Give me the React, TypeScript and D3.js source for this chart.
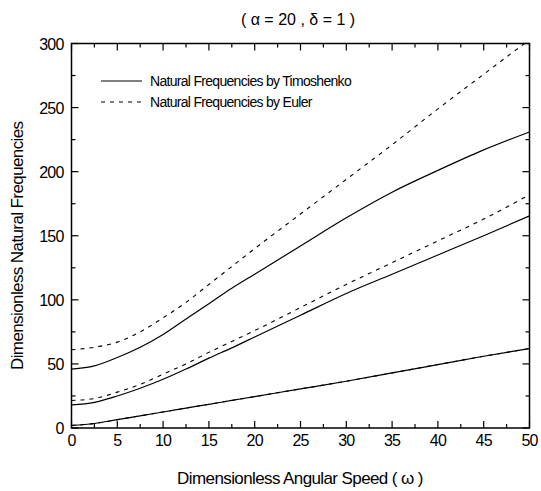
import React from "react";
import * as d3 from "d3";

// angular speed samples
const omega = [0, 2.5, 5, 7.5, 10, 12.5, 15, 17.5, 20, 25, 30, 35, 40, 45, 50];

// Timoshenko modes
const timo1 = [2, 3.5, 6.5, 9.5, 12.5, 15.5, 18.5, 21.5, 24.5, 30.5, 36.5, 43, 49.5, 56, 62];
const timo2 = [18, 20, 25, 31, 38, 46, 54.5, 62.5, 71, 88, 105, 120, 135, 150, 165.5];
const timo3 = [46, 48.5, 55, 63, 73, 85, 97, 109, 120, 142, 164, 184, 201, 217, 231];

// Euler modes
const euler1 = [2, 3.5, 6.5, 9.5, 12.5, 15.5, 18.5, 21.5, 24.5, 30.5, 36.5, 43, 49.5, 56, 62];
const euler2 = [21.5, 23, 28, 34, 42, 50, 59, 67.5, 76, 94, 112, 129, 146, 163, 182];
const euler3 = [61, 63, 67, 75, 86, 98, 112, 126, 140, 167, 194, 221, 249, 276, 303];

const xTicks = [0, 5, 10, 15, 20, 25, 30, 35, 40, 45, 50];
const yTicks = [0, 50, 100, 150, 200, 250, 300];
const legendLabels = ["Natural Frequencies by Timoshenko", "Natural Frequencies by Euler"];

const W = 541, H = 491;
const margin = { top: 43.5, right: 11.5, bottom: 63, left: 71.5 };
const font = "'Liberation Sans', Arial, sans-serif";

export default function App() {
    const x = d3.scaleLinear().domain([0, 50]).range([margin.left, W - margin.right]);
    const y = d3.scaleLinear().domain([0, 300]).range([H - margin.bottom, margin.top]);

    const line = d3.line<number>()
        .x((d, i) => x(omega[i]))
        .y(d => y(d))
        .curve(d3.curveMonotoneX);

    const solid = [timo1, timo2, timo3];
    const dashed = [euler1, euler2, euler3];

    const x0 = x(0), x1 = x(50), y0 = y(0), y1 = y(300);
    const xMinor = d3.range(2.5, 50, 5);
    const yMinor = d3.range(25, 300, 50);

    return (
        <div style={{ position: "absolute", left: 0, top: 0 }}>
            <svg width={W} height={H} style={{ display: "block", background: "#fff" }}>
                <defs>
                    <clipPath id="plot">
                        <rect x={x0} y={y1} width={x1 - x0} height={y0 - y1} />
                    </clipPath>
                </defs>

                <text x={298} y={25} textAnchor="middle" fontFamily={font} fontSize={16}>
                    ( α = 20 , δ = 1 )
                </text>

                <g clipPath="url(#plot)" fill="none" stroke="#000">
                    {dashed.map((s, i) => (
                        <path key={"e" + i} d={line(s) || ""} strokeWidth={1.1} strokeDasharray="4,5" />
                    ))}
                    {solid.map((s, i) => (
                        <path key={"t" + i} d={line(s) || ""} strokeWidth={1.2} />
                    ))}
                </g>

                {/* frame */}
                <rect x={x0} y={y1} width={x1 - x0} height={y0 - y1} fill="none" stroke="#000" strokeWidth={1.5} />

                {/* ticks */}
                <g stroke="#000" strokeWidth={1.2}>
                    {xTicks.map(t => (
                        <g key={"xt" + t}>
                            <line x1={x(t)} x2={x(t)} y1={y0} y2={y0 - 7} />
                            <line x1={x(t)} x2={x(t)} y1={y1} y2={y1 + 7} />
                        </g>
                    ))}
                    {xMinor.map(t => (
                        <g key={"xm" + t}>
                            <line x1={x(t)} x2={x(t)} y1={y0} y2={y0 - 4} />
                            <line x1={x(t)} x2={x(t)} y1={y1} y2={y1 + 4} />
                        </g>
                    ))}
                    {yTicks.map(t => (
                        <g key={"yt" + t}>
                            <line x1={x0} x2={x0 + 7} y1={y(t)} y2={y(t)} />
                            <line x1={x1} x2={x1 - 7} y1={y(t)} y2={y(t)} />
                        </g>
                    ))}
                    {yMinor.map(t => (
                        <g key={"ym" + t}>
                            <line x1={x0} x2={x0 + 4} y1={y(t)} y2={y(t)} />
                            <line x1={x1} x2={x1 - 4} y1={y(t)} y2={y(t)} />
                        </g>
                    ))}
                </g>

                {/* tick labels */}
                <g fontFamily={font} fontSize={16} letterSpacing={-0.8}>
                    {xTicks.map(t => (
                        <text key={"xl" + t} x={x(t)} y={y0 + 18} textAnchor="middle">{t}</text>
                    ))}
                    {yTicks.map(t => (
                        <text key={"yl" + t} x={x0 - 8} y={y(t) + 6} textAnchor="end">{t}</text>
                    ))}
                </g>

                {/* axis titles */}
                <text x={300} y={484} textAnchor="middle" fontFamily={font} fontSize={17} letterSpacing={-0.6}>
                    Dimensionless Angular Speed ( ω )
                </text>
                <text transform={`translate(23,${(y0 + y1) / 2 + 10}) rotate(-90)`} textAnchor="middle"
                      fontFamily={font} fontSize={17} letterSpacing={-0.6}>
                    Dimensionless Natural Frequencies
                </text>

                {/* legend */}
                <g fontFamily={font} fontSize={14} letterSpacing={-0.7}>
                    <line x1={101} x2={142} y1={81} y2={81} stroke="#000" strokeWidth={1} />
                    <text x={150} y={86}>{legendLabels[0]}</text>
                    <line x1={101} x2={142} y1={102} y2={102} stroke="#000" strokeWidth={1} strokeDasharray="4,5" />
                    <text x={150} y={107}>{legendLabels[1]}</text>
                </g>
            </svg>
        </div>
    );
}
